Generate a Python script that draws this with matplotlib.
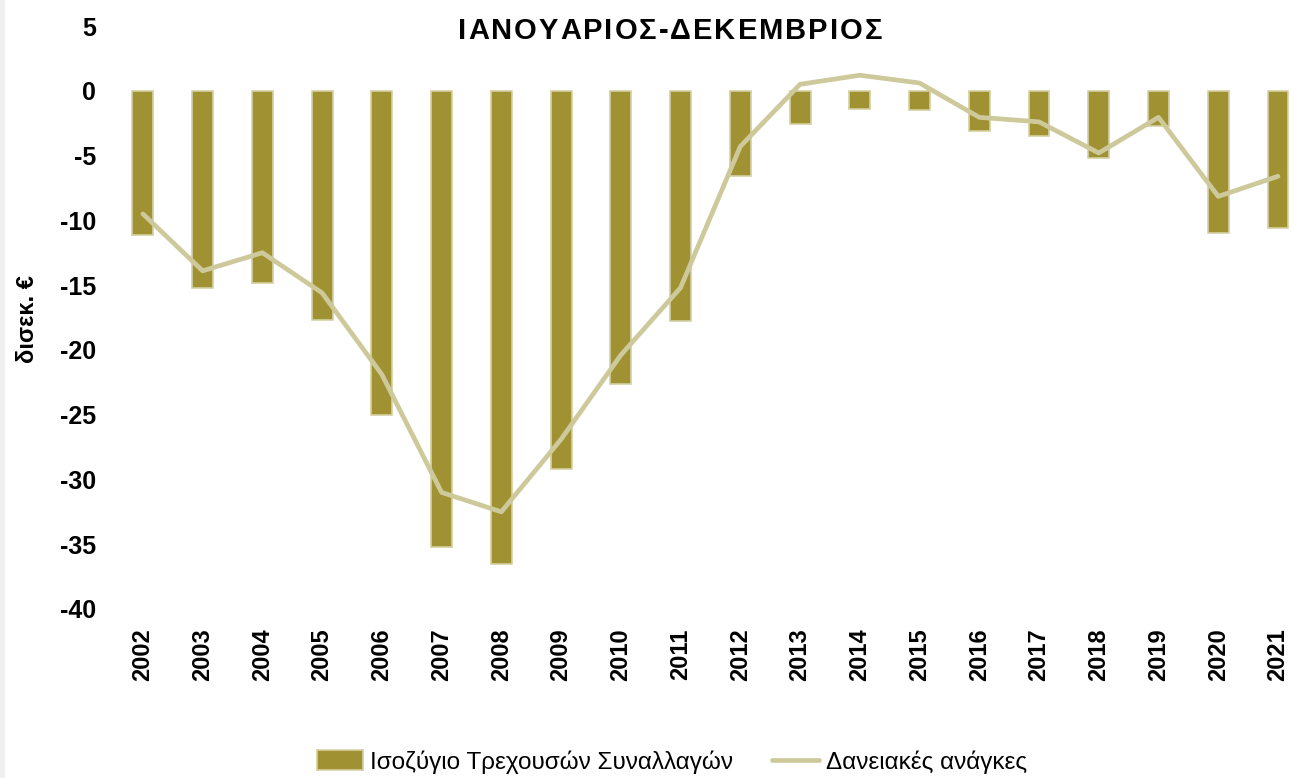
import matplotlib
matplotlib.use("Agg")
import matplotlib.pyplot as plt
from matplotlib.patches import Rectangle

years = [str(y) for y in range(2002, 2022)]
current_account = [-11.1, -15.2, -14.8, -17.7, -25.0, -35.2, -36.5, -29.2, -22.6, -17.8,
                   -6.6, -2.6, -1.4, -1.5, -3.1, -3.5, -5.2, -2.7, -11.0, -10.6]
borrowing_needs = [-9.5, -13.9, -12.5, -15.6, -21.9, -31.0, -32.5, -26.9, -20.4, -15.2,
                   -4.3, 0.5, 1.2, 0.6, -2.05, -2.4, -4.8, -2.05, -8.15, -6.6]
yticks = [5, 0, -5, -10, -15, -20, -25, -30, -35, -40]
title = 'ΙΑΝΟΥΑΡΙΟΣ-ΔΕΚΕΜΒΡΙΟΣ'

plt.rcParams['font.family'] = ['Liberation Sans', 'DejaVu Sans']

W, H = 1294, 778
fig = plt.figure(figsize=(W / 100, H / 100), dpi=100)
fig.patches.append(Rectangle((0, 0), 5 / W, 1, transform=fig.transFigure,
                             facecolor='#f0f0f0', edgecolor='none'))

left, right = 113 / W, 1.0
bottom, top = 1 - 609 / H, 1 - 26 / H
ax = fig.add_axes([left, bottom, right - left, top - bottom])

x = list(range(len(years)))
bar_color = '#A09132'
line_color = '#CDC99B'
bars = ax.bar(x, current_account, width=0.35, color=bar_color, edgecolor='#D4D0A2',
              linewidth=1.2, label='Ισοζύγιο Τρεχουσών Συναλλαγών', zorder=2)
line, = ax.plot(x, borrowing_needs, color=line_color, linewidth=3.4, solid_capstyle='round',
                solid_joinstyle='round', label='Δανειακές ανάγκες', zorder=3)

ax.set_ylim(-40, 5)
ax.set_xlim(-0.5, (1294 - 143) / ((1278 - 143) / 19))
ax.set_yticks(yticks)
ax.set_yticklabels([str(v) for v in yticks], fontsize=18, fontweight='bold')
ax.set_xticks(x)
ax.set_xticklabels(years, rotation=90, fontsize=17, fontweight='bold')
ax.tick_params(length=0, pad=12)
ax.tick_params(axis='x', pad=14)
for s in ax.spines.values():
    s.set_visible(False)

fig.text(27 / W, 1 - 319 / H, 'δισεκ. €', rotation=90, fontsize=17, fontweight='heavy',
         ha='center', va='center')

# title with letter spacing, spread from x=458 to x=882 px
renderer = fig.canvas.get_renderer()
tsize = 21
widths = []
for ch in title:
    t = fig.text(0, 0, ch, fontsize=tsize, fontweight='bold')
    widths.append(t.get_window_extent(renderer).width)
    t.remove()
x0, x1 = 458, 882
gap = ((x1 - x0) - sum(widths)) / (len(title) - 1)
cx = x0
for ch, w in zip(title, widths):
    fig.text(cx / W, 1 - 31 / H, ch, fontsize=tsize, fontweight='bold', ha='left', va='center')
    cx += w + gap

fig.legend([bars, line], ['Ισοζύγιο Τρεχουσών Συναλλαγών', 'Δανειακές ανάγκες'],
           loc='center', bbox_to_anchor=(672 / W, 1 - 762 / H), ncol=2, frameon=False,
           prop={'size': 17.5}, handlelength=1.9, handleheight=0.9,
           columnspacing=1.6, handletextpad=0.3)

fig.savefig('out.png', dpi=100)
